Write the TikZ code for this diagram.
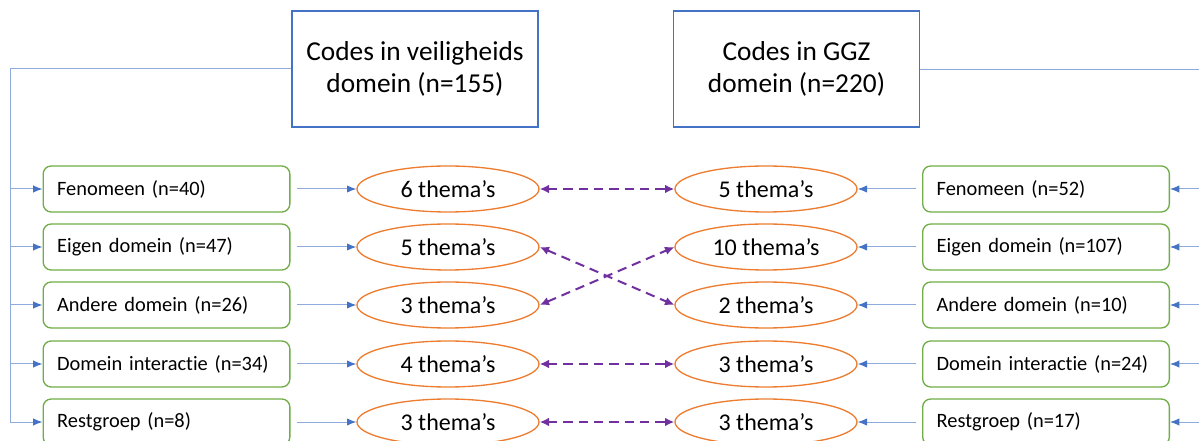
\documentclass[tikz,border=0pt]{standalone}
\usepackage{fontspec}
\setmainfont{Carlito}[Ligatures={NoCommon,NoContextual}]
\usetikzlibrary{shapes.geometric,arrows.meta}

\definecolor{boxblue}{RGB}{68,114,196}
\definecolor{lineblue}{RGB}{143,170,220}
\definecolor{catgreen}{RGB}{112,173,71}
\definecolor{themeorange}{RGB}{237,125,49}
\definecolor{linkpurple}{RGB}{112,48,160}

\begin{document}
\begin{tikzpicture}[x=0.75pt,y=-0.75pt,
    title/.style={draw=boxblue, line width=1pt, minimum width=184.5pt, minimum height=87pt,
      align=center, font=\fontsize{20.5}{24.5}\selectfont},
    cat/.style={draw=catgreen, line width=1pt, rounded corners=6pt, minimum height=34.5pt,
      inner xsep=10.5pt, text width=164pt, align=left, font=\fontsize{15.3}{18}\selectfont},
    thema/.style={draw=themeorange, line width=1pt, ellipse, minimum width=136.5pt,
      minimum height=34.5pt, inner sep=0pt, font=\fontsize{18}{21}\selectfont},
    trunk/.style={draw=lineblue, line width=0.75pt},
    feed/.style={draw=lineblue, line width=0.75pt, -{Latex[length=7pt,width=5.5pt,color=boxblue]}},
    link/.style={draw=linkpurple, line width=1.5pt, dash pattern=on 7pt off 4.5pt,
      {Latex[length=7pt,width=6.5pt]}-{Latex[length=7pt,width=6.5pt]}}]
  \useasboundingbox (0,0) rectangle (1199,441);
  \clip (0,0) rectangle (1199,441);

  % kopjes
  \node[title] (veil) at (415,69) {Codes in veiligheids\\domein (n=155)};
  \node[title] (ggz) at (796.5,69) {Codes in GGZ\\domein (n=220)};

  % categorieen veiligheid
  \node[cat] (vFen) at (166.5,189) {Fenomeen (n=40)};
  \node[cat] (vEig) at (166.5,247) {Eigen domein (n=47)};
  \node[cat] (vAnd) at (166.5,305) {Andere domein (n=26)};
  \node[cat] (vInt) at (166.5,364) {\mbox{Domein interactie (n=34)}};
  \node[cat] (vRest) at (166.5,422) {Restgroep (n=8)};

  % categorieen GGZ
  \node[cat] (gFen) at (1046,189) {Fenomeen (n=52)};
  \node[cat] (gEig) at (1046,247) {Eigen domein (n=107)};
  \node[cat] (gAnd) at (1046,305) {Andere domein (n=10)};
  \node[cat] (gInt) at (1046,364) {\mbox{Domein interactie (n=24)}};
  \node[cat] (gRest) at (1046,422) {Restgroep (n=17)};

  % thema's
  \node[thema] (vT1) at (448,189) {6 thema’s};
  \node[thema] (vT2) at (448,247) {5 thema’s};
  \node[thema] (vT3) at (448,305) {3 thema’s};
  \node[thema] (vT4) at (448,364) {4 thema’s};
  \node[thema] (vT5) at (448,422) {3 thema’s};
  \node[thema] (gT1) at (766,189) {5 thema’s};
  \node[thema] (gT2) at (766,247) {10 thema’s};
  \node[thema] (gT3) at (766,305) {2 thema’s};
  \node[thema] (gT4) at (766,364) {3 thema’s};
  \node[thema] (gT5) at (766,422) {3 thema’s};

  % stammen
  \coordinate (lTop) at (10,69);
  \coordinate (lBot) at (10,422);
  \coordinate (rTop) at (1215,70);
  \coordinate (rBot) at (1215,440);
  \draw[trunk] (veil.west) -- (lTop) -- (lBot);
  \draw[trunk] (ggz.east |- rTop) -- (rTop) -- (rBot);

  \draw[feed] (lTop |- vFen) -- (vFen.west);
  \draw[feed] (lTop |- vEig) -- (vEig.west);
  \draw[feed] (lTop |- vAnd) -- (vAnd.west);
  \draw[feed] (lTop |- vInt) -- (vInt.west);
  \draw[feed] (lTop |- vRest) -- (vRest.west);
  \draw[feed] (rTop |- gFen) -- (gFen.east);
  \draw[feed] (rTop |- gEig) -- (gEig.east);
  \draw[feed] (rTop |- gAnd) -- (gAnd.east);
  \draw[feed] (rTop |- gInt) -- (gInt.east);
  \draw[feed] (rTop |- gRest) -- (gRest.east);

  % categorie naar thema's
  \draw[feed] ([xshift=4.5pt]vFen.east) -- (vT1);
  \draw[feed] ([xshift=4.5pt]vEig.east) -- (vT2);
  \draw[feed] ([xshift=4.5pt]vAnd.east) -- (vT3);
  \draw[feed] ([xshift=4.5pt]vInt.east) -- (vT4);
  \draw[feed] ([xshift=4.5pt]vRest.east) -- (vT5);
  \draw[feed] ([xshift=-4.5pt]gFen.west) -- (gT1);
  \draw[feed] ([xshift=-4.5pt]gEig.west) -- (gT2);
  \draw[feed] ([xshift=-4.5pt]gAnd.west) -- (gT3);
  \draw[feed] ([xshift=-4.5pt]gInt.west) -- (gT4);
  \draw[feed] ([xshift=-4.5pt]gRest.west) -- (gT5);

  % koppelingen tussen domeinen
  \draw[link] (vT1.east) -- (gT1.west);
  \draw[link] (vT2.east) -- (gT3.west);
  \draw[link] (vT3.east) -- (gT2.west);
  \draw[link] (vT4.east) -- (gT4.west);
  \draw[link] (vT5.east) -- (gT5.west);
\end{tikzpicture}
\end{document}
